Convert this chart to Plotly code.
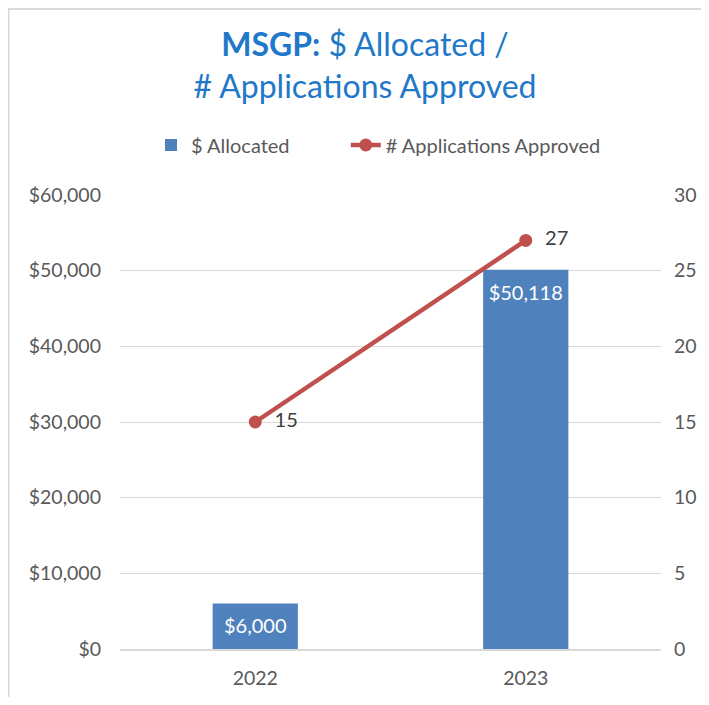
import plotly.graph_objects as go

years = ["2022", "2023"]
allocated = [6000, 50118]
approved = [15, 27]
left_ticks = [0, 10000, 20000, 30000, 40000, 50000, 60000]
right_ticks = [0, 5, 10, 15, 20, 25, 30]

FONT = "Lato, 'Open Sans', sans-serif"
OFF = 8  # page body margin
W, H = 709 - OFF, 705 - 2 * OFF
ML, MT = 120 - OFF, 195 - OFF
MR = W - (661 - OFF)
MB = H - (649 - OFF)
pw, ph = W - ML - MR, H - MT - MB
NB = "\u00a0"

def px_x(x):
    return (x - OFF - ML) / pw

def px_y(y):
    return (H - MB - (y - OFF)) / ph

fig = go.Figure()
fig.add_trace(go.Bar(
    x=years, y=allocated, name="$ Allocated" + NB * 10,
    marker=dict(color="#4F81BD", line=dict(width=0)),
    width=0.315,
))
fig.add_trace(go.Scatter(
    x=years, y=allocated, mode="markers+text", showlegend=False, hoverinfo="skip",
    marker=dict(size=22, opacity=0),
    text=[f"${v:,}" for v in allocated], textposition="bottom center",
    textfont=dict(color="white", size=20, family=FONT),
    cliponaxis=False,
))
fig.add_trace(go.Scatter(
    x=years, y=approved, name="# Applications Approved", yaxis="y2",
    mode="lines+markers+text",
    line=dict(color="#C0504D", width=4.5),
    marker=dict(color="#C0504D", size=13),
    text=["  " + str(v) for v in approved], textposition="middle right",
    textfont=dict(color="#404040", size=20, family=FONT),
    cliponaxis=False,
))

fig.update_layout(
    width=W, height=H,
    margin=dict(l=ML, r=MR, t=MT, b=MB, autoexpand=False),
    paper_bgcolor="white", plot_bgcolor="white",
    font=dict(family=FONT, color="#595959", size=19),
    title=dict(
        text="<b>MSGP:</b> $ Allocated /<br># Applications Approved",
        x=(365 - OFF) / W, xanchor="center",
        y=1 - (56 - OFF) / H, yanchor="middle",
        font=dict(size=32, color="#1F78C8", family=FONT),
    ),
    showlegend=True,
    legend=dict(orientation="h", x=px_x(151), xanchor="left",
                y=px_y(145), yanchor="middle",
                font=dict(size=20, color="#595959"), traceorder="normal"),
    xaxis=dict(showgrid=False, showline=True, linecolor="#D9D9D9", linewidth=2,
               ticks="", tickfont=dict(size=19.5), ticklabelstandoff=11,
               automargin=False),
    yaxis=dict(range=[0, 60000], tickvals=left_ticks,
               ticktext=[f"${v:,}" for v in left_ticks],
               showgrid=True, gridcolor="#D9D9D9", gridwidth=1, zeroline=False,
               tickfont=dict(size=19.5), ticklabelstandoff=18, automargin=False),
    yaxis2=dict(range=[0, 30], tickvals=right_ticks, overlaying="y", side="right",
                showgrid=False, zeroline=False, tickfont=dict(size=19.5),
                ticklabelstandoff=12, automargin=False),
    shapes=[dict(type="rect", xref="paper", yref="paper",
                 x0=-ML / pw + 0.5 / pw, x1=px_x(730), y0=px_y(730),
                 y1=(H - MB - 1) / ph,
                 line=dict(color="#D9D9D9", width=2), layer="below")],
)

fig.write_html("out.html")
